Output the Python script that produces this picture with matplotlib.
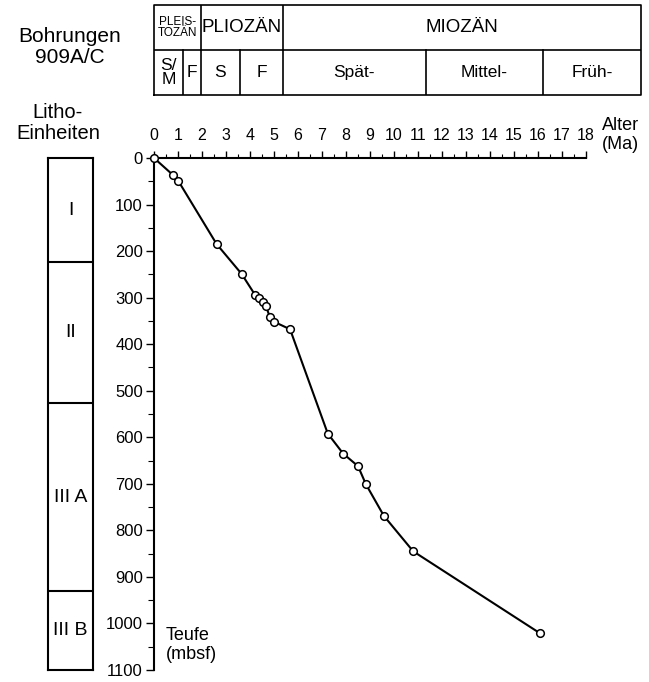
import matplotlib
matplotlib.use("Agg")
import matplotlib.pyplot as plt
from matplotlib.ticker import MultipleLocator

plt.rcParams['font.family'] = ['Liberation Sans', 'DejaVu Sans']

# age-depth points
ages = [0, 0.8, 1.01, 2.61, 3.65, 4.21, 4.39, 4.53, 4.67, 4.83, 5.01, 5.67,
        7.24, 7.88, 8.5, 8.83, 9.58, 10.8, 16.08]
depths = [0, 37, 49, 185, 249, 294, 301, 309, 319, 342, 352, 368,
          592, 635, 662, 701, 769, 845, 1021]

# stratigraphy header (Ma boundaries)
epoch_bounds = [0, 1.96, 5.37, 20.29]
epoch_labels = ['PLEIS-\nTOZÄN', 'PLIOZÄN', 'MIOZÄN']
sub_bounds = [0, 1.2, 1.96, 3.58, 5.37, 11.33, 16.2, 20.29]
sub_labels = ['S/\nM', 'F', 'S', 'F', 'Spät-', 'Mittel-', 'Früh-']

# litho units (mbsf)
litho_bounds = [0, 224, 527, 930, 1100]
litho_labels = ['I', 'II', 'III A', 'III B']

W, H = 649, 682
def fx(px): return px / W
def fy(py): return 1 - py / H

fig = plt.figure(figsize=(W / 100, H / 100), dpi=100)

# main plot
ax = fig.add_axes([fx(154), fy(670), fx(586) - fx(154), fy(158) - fy(670)])
ax.plot(ages, depths, color='black', lw=1.5, marker='o', ms=5.5, mfc='white',
        mec='black', mew=1.1, clip_on=False, zorder=3)
ax.set_xlim(0, 18)
ax.set_ylim(1100, 0)
ax.spines['right'].set_visible(False)
ax.spines['bottom'].set_visible(False)
ax.spines['left'].set_linewidth(1.5)
ax.spines['top'].set_linewidth(1.5)
ax.xaxis.tick_top()
ax.xaxis.set_major_locator(MultipleLocator(1))
ax.xaxis.set_minor_locator(MultipleLocator(0.5))
ax.yaxis.set_major_locator(MultipleLocator(100))
ax.yaxis.set_minor_locator(MultipleLocator(50))
ax.tick_params(axis='x', which='major', length=5, width=1, labelsize=11.5, pad=6)
ax.tick_params(axis='x', which='minor', length=3, width=0.8)
ax.tick_params(axis='y', which='major', length=6, width=1, labelsize=12, pad=2)
ax.tick_params(axis='y', which='minor', length=4, width=0.8)

fig.text(fx(602), fy(135), 'Alter\n(Ma)', fontsize=13, ha='left', va='center',
         linespacing=1.1)
fig.text(fx(166), fy(645), 'Teufe\n(mbsf)', fontsize=13, ha='left', va='center',
         linespacing=1.1)

# header
axh = fig.add_axes([fx(154), fy(95), fx(641) - fx(154), fy(5) - fy(95)])
axh.set_xlim(0, epoch_bounds[-1])
axh.set_ylim(0, 2)
axh.axis('off')
lw = 1.2
axh.plot([0, epoch_bounds[-1], epoch_bounds[-1], 0, 0], [0, 0, 2, 2, 0],
         color='black', lw=lw, clip_on=False)
axh.plot([0, epoch_bounds[-1]], [1, 1], color='black', lw=lw)
for b in epoch_bounds[1:-1]:
    axh.plot([b, b], [1, 2], color='black', lw=lw)
for b in sub_bounds[1:-1]:
    axh.plot([b, b], [0, 1], color='black', lw=lw)
for i, lab in enumerate(epoch_labels):
    xc = (epoch_bounds[i] + epoch_bounds[i + 1]) / 2
    fs = 8.5 if i == 0 else 13.5
    axh.text(xc, 1.5, lab, ha='center', va='center', fontsize=fs, linespacing=0.85)
for i, lab in enumerate(sub_labels):
    xc = (sub_bounds[i] + sub_bounds[i + 1]) / 2
    axh.text(xc, 0.5, lab, ha='center', va='center', fontsize=12.5, linespacing=0.9)

fig.text(fx(70), fy(47), 'Bohrungen\n909A/C', fontsize=15, ha='center', va='center',
         linespacing=1.15)
fig.text(fx(58), fy(123), 'Litho-\nEinheiten', fontsize=14.5, ha='center', va='center',
         linespacing=1.1)

# litho column
axl = fig.add_axes([fx(48), fy(670), fx(93) - fx(48), fy(158) - fy(670)])
axl.set_xlim(0, 1)
axl.set_ylim(1100, 0)
axl.set_xticks([])
axl.set_yticks([])
for s in axl.spines.values():
    s.set_linewidth(1.5)
for b in litho_bounds[1:-1]:
    axl.axhline(b, color='black', lw=1.5)
for i, lab in enumerate(litho_labels):
    yc = (litho_bounds[i] + litho_bounds[i + 1]) / 2
    axl.text(0.5, yc, lab, ha='center', va='center', fontsize=14)

fig.savefig('out.png', dpi=100)
